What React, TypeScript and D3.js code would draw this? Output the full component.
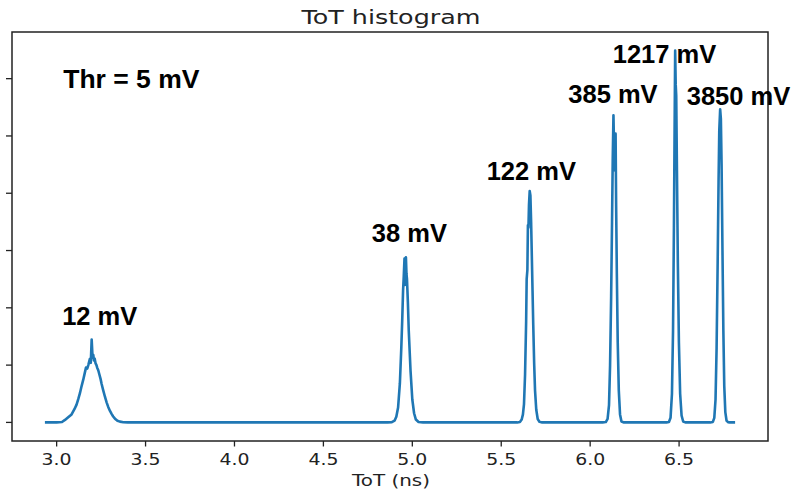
import React from "react";
import * as d3 from "d3";

// ToT (ns), counts
const baseStart: [number, number][] = [[2.934, 0]];
const peak12: [number, number][] = [[3.0,0],[3.03,4],[3.047,22],[3.065,45],[3.084,70],[3.1,115],[3.112,155],[3.122,205],[3.131,255],[3.14,315],[3.15,375],[3.158,430],[3.165,478],[3.172,470],[3.178,500],[3.183,530],[3.187,555],[3.192,520],[3.197,723],[3.202,565],[3.206,590],[3.21,540],[3.214,555],[3.219,515],[3.224,500],[3.228,478],[3.234,455],[3.24,420],[3.247,380],[3.253,335],[3.262,280],[3.272,222],[3.281,175],[3.29,135],[3.3,100],[3.309,75],[3.318,52],[3.328,33],[3.342,15],[3.356,7],[3.375,2],[3.4,0]];
const peak38: [number, number][] = [[4.86,0],[4.885,2],[4.9,15],[4.91,50],[4.92,130],[4.93,340],[4.938,650],[4.943,880],[4.948,1150],[4.952,1280],[4.956,1430],[4.958,1200],[4.961,1330],[4.964,1440],[4.967,1300],[4.97,1250],[4.975,1050],[4.98,800],[4.99,450],[5.0,200],[5.01,80],[5.02,25],[5.035,3],[5.06,0]];
const peak122: [number, number][] = [[5.59,0],[5.605,4],[5.615,25],[5.622,70],[5.628,160],[5.634,420],[5.64,880],[5.643,1250],[5.647,1330],[5.65,1720],[5.653,1700],[5.656,1900],[5.66,2020],[5.664,1980],[5.668,1750],[5.672,1450],[5.676,1150],[5.68,850],[5.685,520],[5.69,280],[5.697,110],[5.705,30],[5.715,5],[5.73,0]];
const peak385: [number, number][] = [[6.07,0],[6.088,3],[6.098,30],[6.106,150],[6.112,500],[6.118,1100],[6.123,1750],[6.127,2300],[6.131,2680],[6.135,2350],[6.139,2200],[6.143,2520],[6.146,1900],[6.15,1300],[6.155,700],[6.161,280],[6.168,70],[6.176,8],[6.19,0]];
const peak1217: [number, number][] = [[6.43,0],[6.443,3],[6.452,40],[6.46,250],[6.466,800],[6.471,1700],[6.475,2600],[6.478,3245],[6.481,2950],[6.484,2850],[6.488,2200],[6.493,1400],[6.499,700],[6.506,250],[6.514,60],[6.523,8],[6.535,0]];
const peak3850: [number, number][] = [[6.675,0],[6.69,4],[6.698,40],[6.705,200],[6.711,650],[6.717,1400],[6.722,2100],[6.726,2550],[6.731,2733],[6.735,2650],[6.739,2250],[6.744,1500],[6.749,800],[6.754,320],[6.76,90],[6.767,15],[6.775,2],[6.785,0]];
const baseEnd: [number, number][] = [[6.815, 0]];

const xTicks = [3.0, 3.5, 4.0, 4.5, 5.0, 5.5, 6.0, 6.5];
const yTicks = [0, 500, 1000, 1500, 2000, 2500, 3000];
const xDomain: [number, number] = [2.749, 7.0];

const title = "ToT histogram";
const xLabel = "ToT (ns)";
const thrLabel = { text: "Thr = 5 mV", x: 3.037, y: 2917 };
const peakLabels = [
  { text: "12 mV", x: 3.031, y: 848 },
  { text: "38 mV", x: 4.772, y: 1576 },
  { text: "122 mV", x: 5.418, y: 2115 },
  { text: "385 mV", x: 5.877, y: 2791 },
  { text: "1217 mV", x: 6.127, y: 3135 },
  { text: "3850 mV", x: 6.543, y: 2771 },
];

const W = 794, H = 492;
const M = { left: 12, top: 32, right: 26, bottom: 51 };

export default function App() {
  const data = [...baseStart, ...peak12, ...peak38, ...peak122, ...peak385, ...peak1217, ...peak3850, ...baseEnd];
  const yMax = d3.max(data, (d) => d[1]) as number;
  const yMin = 0;
  const pad = (yMax - yMin) * 0.05;
  const x = d3.scaleLinear().domain(xDomain).range([M.left, W - M.right]);
  const y = d3.scaleLinear().domain([yMin - pad, yMax + pad]).range([H - M.bottom, M.top]);
  const line = d3.line<[number, number]>().x((d) => x(d[0])).y((d) => y(d[1]));
  const dv = "DejaVu Sans, sans-serif";
  const bold = "Liberation Sans, Arial, sans-serif";
  const x0 = M.left, x1 = W - M.right, y0 = M.top, y1 = H - M.bottom;
  return (
    <svg width={W} height={H} style={{ position: "absolute", left: 0, top: 0, background: "#fff" }}>
      <rect x={0} y={0} width={W} height={H} fill="#fff" />
      <path d={line(data) || ""} fill="none" stroke="#1f77b4" strokeWidth={2.6} strokeLinejoin="round" />
      <rect x={x0} y={y0} width={x1 - x0} height={y1 - y0} fill="none" stroke="#222" strokeWidth={1.5} />
      {xTicks.map((t) => (
        <g key={t}>
          <line x1={x(t)} x2={x(t)} y1={y1} y2={y1 + 5.5} stroke="#222" strokeWidth={1.3} />
          <text x={x(t)} y={465} textAnchor="middle" fontFamily={dv} fontSize={16.5} fill="#222"
            textLength={30} lengthAdjust="spacingAndGlyphs">{t.toFixed(1)}</text>
        </g>
      ))}
      {yTicks.map((t) => (
        <line key={t} x1={x0 - 6} x2={x0} y1={y(t)} y2={y(t)} stroke="#222" strokeWidth={1.3} />
      ))}
      <text x={(x0 + x1) / 2 + 1} y={485.7} textAnchor="middle" fontFamily={dv} fontSize={16.5} fill="#222"
        textLength={78} lengthAdjust="spacingAndGlyphs">{xLabel}</text>
      <text x={(x0 + x1) / 2 + 1} y={24} textAnchor="middle" fontFamily={dv} fontSize={19.5} fill="#222"
        textLength={179} lengthAdjust="spacingAndGlyphs">{title}</text>
      <text x={x(thrLabel.x)} y={y(thrLabel.y)} fontFamily={bold} fontWeight="bold" fontSize={26.5} fill="#000">{thrLabel.text}</text>
      {peakLabels.map((p) => (
        <text key={p.text} x={x(p.x)} y={y(p.y)} fontFamily={bold} fontWeight="bold" fontSize={25.5} fill="#000">{p.text}</text>
      ))}
    </svg>
  );
}
